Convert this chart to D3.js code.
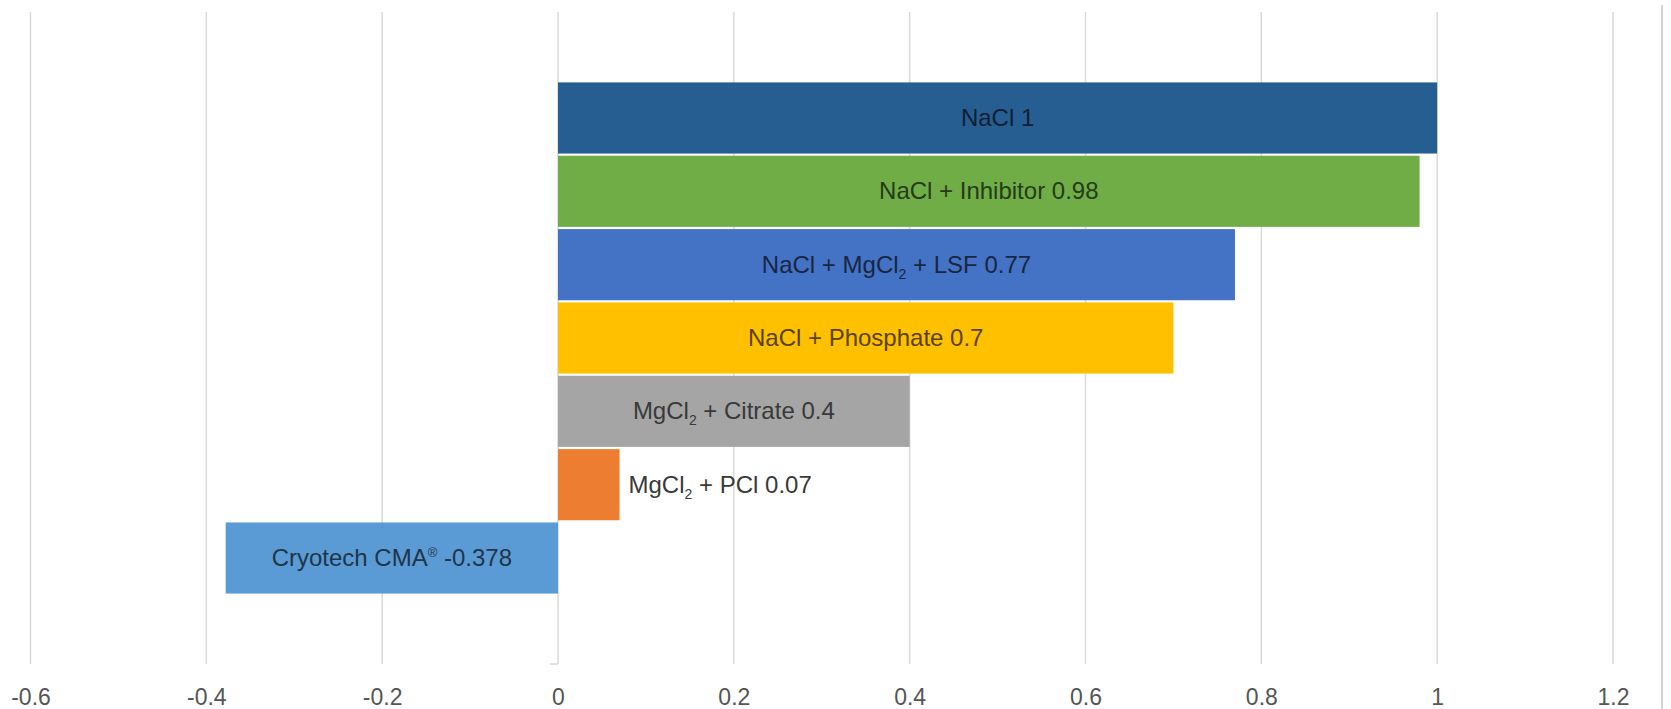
<!DOCTYPE html>
<html>
<head>
<meta charset="utf-8">
<script src="https://cdn.jsdelivr.net/npm/d3@7"></script>
<style>
  body { margin: 0; background: white; }
  text { font-family: "Liberation Sans", Arial, sans-serif; }
</style>
</head>
<body>
<svg></svg>
<script>
var w = 1671
var h = 709

// data, top to bottom
var names = ["NaCl", "NaCl + Inhibitor", "NaCl + MgCl_2 + LSF", "NaCl + Phosphate", "MgCl_2 + Citrate", "MgCl_2 + PCl", "Cryotech CMA^®"]
var values = [1, 0.98, 0.77, 0.7, 0.4, 0.07, -0.378]
var valueLabels = ["1", "0.98", "0.77", "0.7", "0.4", "0.07", "-0.378"]
var colors = ["#265e92", "#70ad47", "#4472c4", "#ffc000", "#a5a5a5", "#ed7d31", "#5b9bd5"]
var tickVals = [-0.6, -0.4, -0.2, 0, 0.2, 0.4, 0.6, 0.8, 1, 1.2]

var gridTop = 12
var gridBottom = 664

var svg = d3.select("svg")
	.attr("width", w)
	.attr("height", h)
	.style("background-color", "white")

var x = d3.scaleLinear()
	.domain([-0.6, 1.2])
	.range([30.5, 1613])

var y = d3.scaleBand()
	.domain(d3.range(names.length))
	.range([gridTop, gridBottom])
	.paddingInner(0.03)
	.paddingOuter(0.96)

//gridlines
svg.append("g")
	.selectAll("line")
	.data(tickVals)
	.join("line")
	.attr("x1", d => x(d))
	.attr("x2", d => x(d))
	.attr("y1", gridTop)
	.attr("y2", gridBottom)
	.attr("stroke", "#d9d9d9")
	.attr("stroke-width", 1.5)

//little tick at the foot of the zero line
svg.append("line")
	.attr("x1", x(0) - 8)
	.attr("x2", x(0))
	.attr("y1", gridBottom)
	.attr("y2", gridBottom)
	.attr("stroke", "#d9d9d9")
	.attr("stroke-width", 1.5)

//right edge of the chart frame
svg.append("line")
	.attr("x1", 1662)
	.attr("x2", 1662)
	.attr("y1", 5)
	.attr("y2", h)
	.attr("stroke", "#d4d4d4")
	.attr("stroke-width", 2)

//x axis labels
var axis = svg.append("g")
	.attr("transform", "translate(0," + 687 + ")")
	.call(d3.axisBottom(x)
		.tickValues(tickVals)
		.tickSize(0)
		.tickFormat(d => String(+d.toFixed(1))))

axis.select(".domain").remove()
axis.selectAll("text")
	.attr("fill", "#555555")
	.style("font-size", "23px")
	.style("font-family", "'Liberation Sans', Arial, sans-serif")
	.attr("dy", "0.35em")
	.attr("y", 10)

//bars
var rows = names.map((n, i) => ({name: n, value: values[i], label: valueLabels[i], color: colors[i], i: i}))

svg.append("g")
	.selectAll("rect")
	.data(rows)
	.join("rect")
	.attr("x", d => x(Math.min(0, d.value)))
	.attr("width", d => Math.abs(x(d.value) - x(0)))
	.attr("y", d => y(d.i))
	.attr("height", y.bandwidth())
	.attr("fill", d => d.color)

//labels, "_2" is a subscript and "^®" a superscript
function addLabel(sel, d) {
	var parts = d.name.split(/(_\d|\^.)/)
	parts.push(" " + d.label)
	var back = 0
	parts.forEach(function(p) {
		if (p === "") return
		if (p[0] === "_") {
			sel.append("tspan").text(p.slice(1))
				.style("font-size", "14px")
				.attr("dy", 6 + back)
			back = -6
		} else if (p[0] === "^") {
			sel.append("tspan").text(p.slice(1))
				.style("font-size", "13px")
				.attr("dy", -9 + back)
			back = 9
		} else {
			sel.append("tspan").text(p).attr("dy", back)
			back = 0
		}
	})
}

var labels = svg.append("g")
	.selectAll("text")
	.data(rows)
	.join("text")
	.style("font-size", "24px")
	.attr("y", d => y(d.i) + y.bandwidth() / 2 + 8)
	.each(function(d) {
		var narrow = Math.abs(x(d.value) - x(0)) < 150
		var t = d3.select(this)
		if (narrow) {
			t.attr("x", x(d.value) + 9)
				.attr("text-anchor", "start")
				.attr("fill", "#3a3a3a")
		} else {
			t.attr("x", (x(d.value) + x(0)) / 2)
				.attr("text-anchor", "middle")
				.attr("fill", d3.color(d.color).darker(3).formatHex())
		}
		addLabel(t, d)
	})
</script>
</body>
</html>
